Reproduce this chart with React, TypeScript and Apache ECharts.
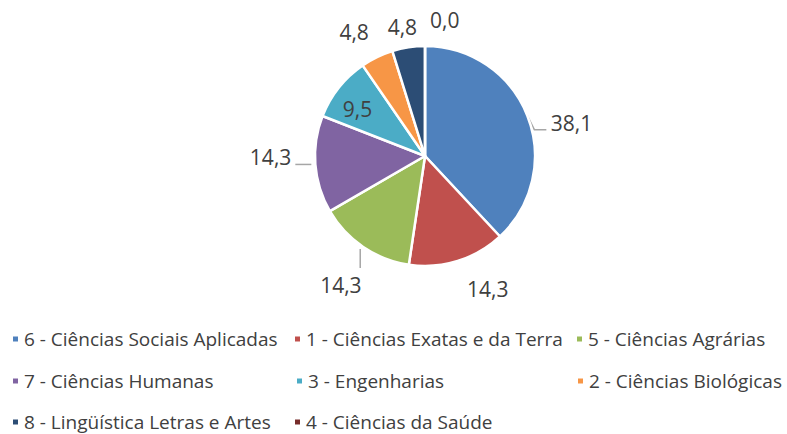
import React, { useEffect, useRef } from "react";
import * as echarts from "echarts";

const categories = [
  "6 - Ciências Sociais Aplicadas",
  "1 - Ciências Exatas e da Terra",
  "5 - Ciências Agrárias",
  "7 - Ciências Humanas",
  "3 - Engenharias",
  "2 - Ciências Biológicas",
  "8 - Lingüística Letras e Artes",
  "4 - Ciências da Saúde",
];
const values = [38.1, 14.3, 14.3, 14.3, 9.5, 4.8, 4.8, 0.0];
const colors = ["#4F81BD", "#C0504D", "#9BBB59", "#8064A2", "#4BACC6", "#F79646", "#2C4D75", "#772C2A"];

// label offsets (relative to the library's default label centre)
const labelOffsets: number[][] = [
  [18.5, 7], [4.4, 27.9], [3.4, 37.7], [-19, -7.4], [-22, -11.3], [-3.1, -24.7], [13.6, -20.4], [39.5, -26.2],
];
const labelInside = [false, false, false, false, true, false, false, false];
// leader-line bends relative to the slice anchor point (null = no line)
const leaderLines: (number[][] | null)[] = [
  [[0, 0], [7, 14], [19, 14]],
  null,
  [[-3, 2], [-3, 21]],
  [[-4, 0], [-20, 0]],
  null, null, null, null,
];
// legend grid: [left, rowCentre]
const legendPos: number[][] = [
  [11, 338.5], [293, 338.5], [575, 338.5],
  [11, 380.5], [295, 380.5], [576, 380.5],
  [11, 421.5], [293, 421.5],
];

const FONT = '"Open Sans", "Liberation Sans", sans-serif';
const TEXT = "#404040";

export default function App() {
  const ref = useRef<HTMLDivElement>(null);
  useEffect(() => {
    if (!ref.current) return;
    const chart = echarts.init(ref.current, undefined, { renderer: "svg" });
    const legends = categories.map((name, i) => ({
      data: [name],
      left: legendPos[i][0],
      top: legendPos[i][1] - 9,
      padding: 0,
      itemWidth: 7,
      itemHeight: 7,
      icon: "rect",
      selectedMode: false,
      textStyle: {
        fontFamily: FONT,
        fontSize: 19,
        color: TEXT,
        lineHeight: 18,
      },
    }));
    chart.setOption({
      animation: false,
      color: colors,
      legend: legends,
      series: [
        {
          type: "pie",
          center: [425, 156],
          radius: [0, 110],
          startAngle: 90,
          clockwise: true,
          avoidLabelOverlap: false,
          itemStyle: { borderColor: "#fff", borderWidth: 2.5 },
          emphasis: { disabled: true },
          label: {
            show: true,
            position: "outside",
            fontFamily: FONT,
            fontSize: 21,
            color: TEXT,
            formatter: (p: any) => Number(p.value).toFixed(1).replace(".", ","),
          },
          labelLine: {
            show: false,
            length: 0,
            length2: 0,
            lineStyle: { color: "#A6A6A6", width: 1.5 },
          },
          labelLayout: (params: any) => {
            const i = params.dataIndex;
            const r = params.labelRect;
            const off = labelOffsets[i];
            const res: any = {
              x: r.x + r.width / 2 + off[0],
              y: r.y + r.height / 2 + off[1],
              align: "center",
              verticalAlign: "middle",
            };
            const ll = leaderLines[i];
            if (ll && params.labelLinePoints && params.labelLinePoints[0]) {
              const p0 = params.labelLinePoints[0];
              res.labelLinePoints = ll.map((d) => [p0[0] + d[0], p0[1] + d[1]]);
            }
            return res;
          },
          data: categories.map((name, i) => ({
            name,
            value: values[i],
            label: labelInside[i] ? { position: "inside" } : undefined,
            labelLine: leaderLines[i] ? { show: true } : undefined,
          })),
        },
      ],
    });
    return () => chart.dispose();
  }, []);
  return (
    <div
      ref={ref}
      style={{ position: "fixed", left: 0, top: 0, width: 787, height: 434, background: "#fff" }}
    />
  );
}
